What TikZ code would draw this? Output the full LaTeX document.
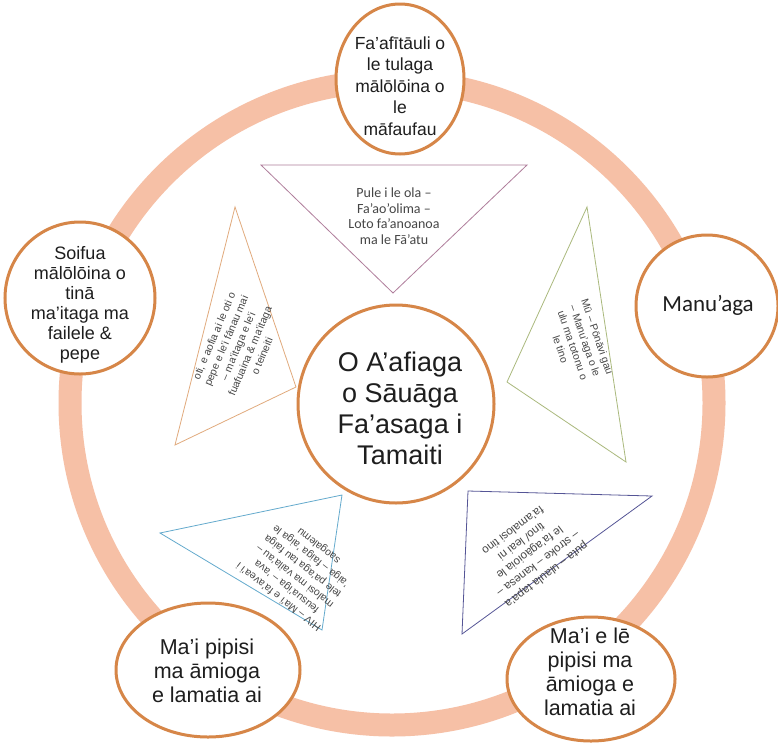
\documentclass[tikz,border=0pt]{standalone}
\usepackage{fontspec}
\setmainfont{Liberation Sans}
\newfontfamily\calfont{Carlito}
\usetikzlibrary{shapes.geometric}
\definecolor{ringc}{RGB}{246,192,166}
\definecolor{bubc}{RGB}{214,134,72}
\definecolor{txtc}{RGB}{30,30,30}
\definecolor{tritxt}{RGB}{70,70,70}
\definecolor{triA}{RGB}{175,125,155}
\definecolor{triB}{RGB}{225,170,125}
\definecolor{triC}{RGB}{170,185,125}
\definecolor{triD}{RGB}{100,170,205}
\definecolor{triE}{RGB}{85,85,150}
\tikzset{
  ringline/.style={draw=ringc, line width=23pt},
  bub/.style={ellipse, draw=bubc, line width=3pt, fill=white, inner sep=0pt},
  bubtext/.style={text=txtc, align=center, inner sep=0pt},
  triline/.style={line width=0.8pt},
  tritext/.style={text=tritxt, align=center, inner sep=0pt}
}
\begin{document}
\begin{tikzpicture}[x=1pt,y=-1pt]
\useasboundingbox (0,0) rectangle (778,742);
\fill[white] (0,0) rectangle (778,742);
% ring
\draw[ringline] (392,403) ellipse [x radius=322, y radius=322];
% triangles
\coordinate (ta1) at (261,165); \coordinate (ta2) at (527,165); \coordinate (ta3) at (393,293);
\draw[triline, draw=triA] (ta1) -- (ta2) -- (ta3) -- cycle;
\coordinate (tb1) at (235,207); \coordinate (tb2) at (296,387); \coordinate (tb3) at (175,445);
\draw[triline, draw=triB] (tb1) -- (tb2) -- (tb3) -- cycle;
\coordinate (tc1) at (587,207); \coordinate (tc2) at (507,382); \coordinate (tc3) at (626,462);
\draw[triline, draw=triC] (tc1) -- (tc2) -- (tc3) -- cycle;
\coordinate (td1) at (160,533); \coordinate (td2) at (342,495); \coordinate (td3) at (322,630);
\draw[triline, draw=triD] (td1) -- (td2) -- (td3) -- cycle;
\coordinate (te1) at (468,491); \coordinate (te2) at (652,496); \coordinate (te3) at (462,634);
\draw[triline, draw=triE] (te1) -- (te2) -- (te3) -- cycle;
% triangle texts
\node[tritext, font=\calfont\fontsize{14}{15.5}\selectfont] (xa) at (394,216) {Pule i le ola –\\Fa’ao’olima –\\Loto fa’anoanoa\\ma le Fā’atu};
\node[tritext, rotate=67, font=\fontsize{10.5}{13}\selectfont] (xb) at (238,346) {oti, e aofia ai le oti o\\pepe e le’i fānau mai\\– ma’itaga e le’i\\fuafuaina \& ma’itaga\\o teineiti};
\node[tritext, rotate=-71, font=\fontsize{10.5}{13}\selectfont] (xc) at (579,343) {Mū – Pōnāvi gau\\– Manu’aga o le\\ulu ma totonu o\\le tino};
\node[tritext, rotate=142, font=\fontsize{10.5}{13}\selectfont] (xd) at (299,571) {HIV – Ma’i e fa’avea’i i\\feusua’iga – ’ava\\malosi ma vaila’au –\\tele pa’aga tau faiga\\’aiga – faiga ’aiga le\\saogalemu};
\node[tritext, rotate=217, font=\fontsize{11.5}{14}\selectfont] (xe) at (530,553) {puta – ulaula tapa’a\\– stroke – kanesa –\\le fa’agāoioia le\\tino/ leai ni\\fa’amalosi tino};
% bubbles
\node[bub, minimum width=196pt, minimum height=198pt] (c) at (396,404) {};
\node[bubtext, font=\fontsize{27}{31}\selectfont] (ct) at (400,408) {O A’afiaga\\o Sāuāga\\Fa’asaga i\\Tamaiti};
\node[bub, minimum width=128pt, minimum height=150pt] (n1) at (400,79) {};
\node[bubtext, font=\fontsize{17.5}{21.5}\selectfont] (n1t) at (400,86) {Fa’afītāuli o\\le tulaga\\mālōlōina o\\le\\māfaufau};
\node[bub, minimum width=150pt, minimum height=152pt] (n2) at (80,298) {};
\node[bubtext, font=\fontsize{18}{20}\selectfont] (n2t) at (80,305) {Soifua\\mālōlōina o\\tinā\\ma’itaga ma\\failele \&\\pepe};
\node[bub, minimum width=142pt, minimum height=142pt] (n3) at (707,306) {};
\node[bubtext, font=\calfont\fontsize{23}{26}\selectfont] (n3t) at (708,305) {Manu’aga};
\node[bub, minimum width=184pt, minimum height=134pt] (n4) at (208,670) {};
\node[bubtext, font=\fontsize{21.5}{24}\selectfont] (n4t) at (207,671) {Ma’i pipisi\\ma āmioga\\e lamatia ai};
\node[bub, minimum width=168pt, minimum height=124pt] (n5) at (591,679) {};
\node[bubtext, font=\fontsize{21.5}{24}\selectfont] (n5t) at (590,672) {Ma’i e lē\\pipisi ma\\āmioga e\\lamatia ai};
\end{tikzpicture}
\end{document}
